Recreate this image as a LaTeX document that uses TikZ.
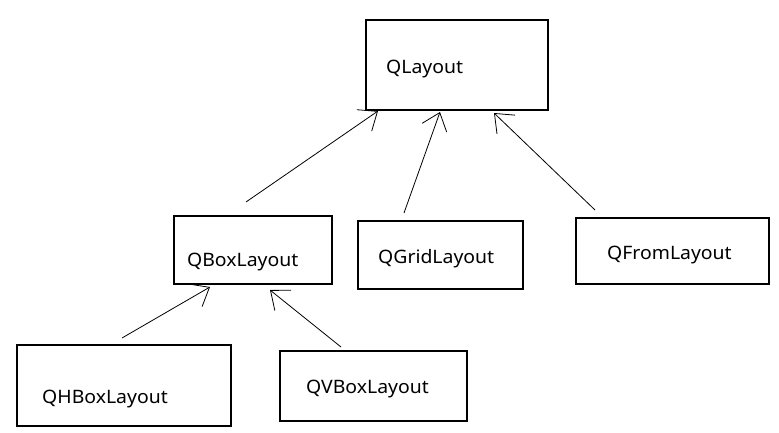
\documentclass[tikz,border=0pt]{standalone}
\usepackage{fontspec}
\setmainfont{Noto Sans}[FakeStretch=1.05]
\usetikzlibrary{arrows.meta}
\begin{document}
\begin{tikzpicture}[x=1pt,y=-1pt,
  box/.style={draw=black, line width=1.2pt, fill=none},
  lbl/.style={anchor=base west, inner sep=0pt, font=\fontsize{18.5}{20}\selectfont},
  conn/.style={draw=black, line width=0.8pt, -{Straight Barb[length=16pt,width=26pt,line width=0.8pt]}}]
\useasboundingbox (0,0) rectangle (779,433);
% boxes
\draw[box] (366,20) rectangle (548,110);
\draw[box] (174,216) rectangle (332,284);
\draw[box] (358,221) rectangle (523,289);
\draw[box] (576,218) rectangle (769,284);
\draw[box] (17,345) rectangle (231,426);
\draw[box] (280,351) rectangle (467,421);
% labels
\node[lbl] (ql) at (386,74) {QLayout};
\node[lbl] (qb) at (187,266) {QBoxLayout};
\node[lbl] (qg) at (378,263) {QGridLayout};
\node[lbl] (qf) at (607,259) {QFromLayout};
\node[lbl] (qh) at (42,403) {QHBoxLayout};
\node[lbl] (qv) at (306,393) {QVBoxLayout};
% connector endpoints
\coordinate (qbS) at (246,202);
\coordinate (qlA) at (378,111);
\coordinate (qgS) at (404,213);
\coordinate (qlB) at (440,112);
\coordinate (qfS) at (595,210);
\coordinate (qlC) at (494,113);
\coordinate (qhS) at (122,338);
\coordinate (qbA) at (210,287);
\coordinate (qvS) at (341,347);
\coordinate (qbB) at (270,290);
\draw[conn] (qbS) -- (qlA);
\draw[conn] (qgS) -- (qlB);
\draw[conn] (qfS) -- (qlC);
\draw[conn] (qhS) -- (qbA);
\draw[conn] (qvS) -- (qbB);
\end{tikzpicture}
\end{document}
